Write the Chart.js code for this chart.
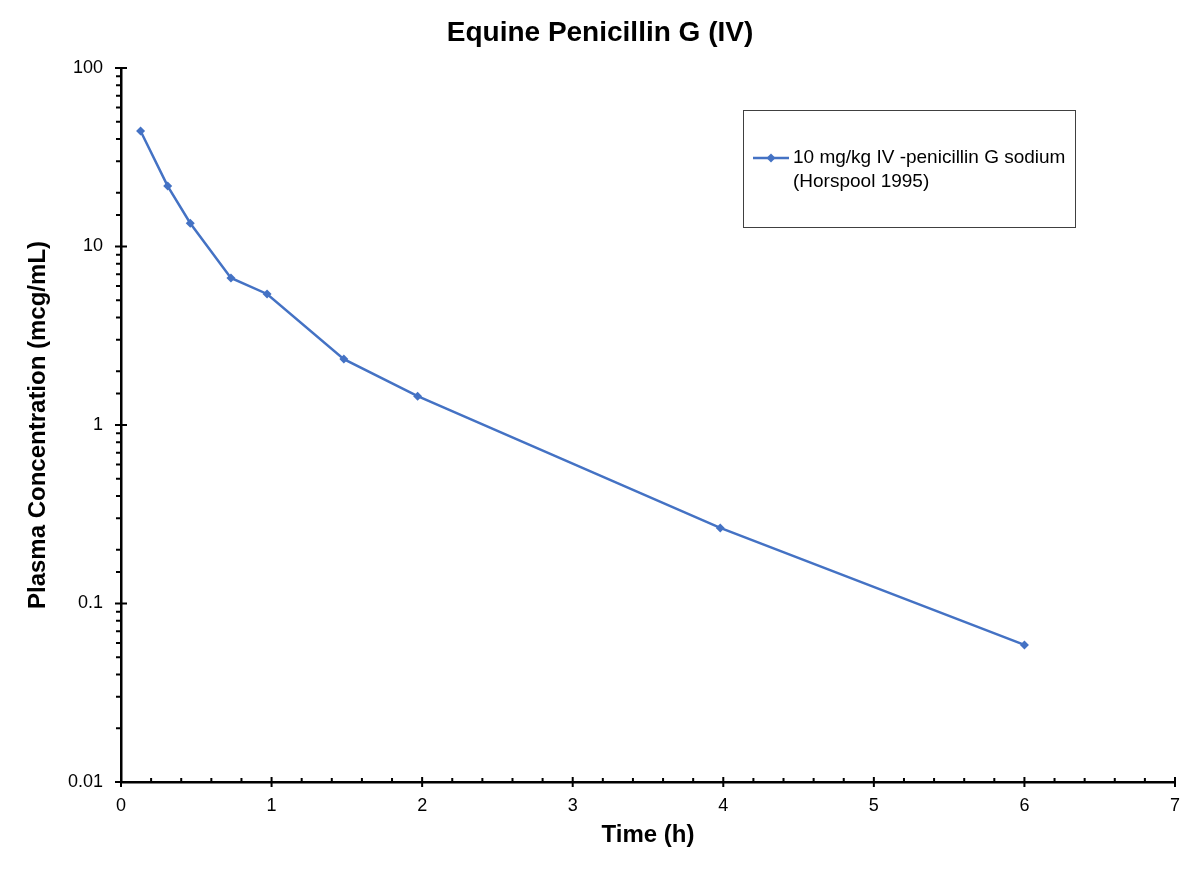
<!DOCTYPE html>
<html>
<head>
<meta charset="utf-8">
<title>Equine Penicillin G (IV)</title>
<script src="https://cdn.jsdelivr.net/npm/chart.js@4/dist/chart.umd.min.js"></script>
<style>
  html, body { margin: 0; padding: 0; background: #ffffff; }
  #wrap { width: 1200px; height: 871px; }
</style>
</head>
<body>
<div id="wrap"><canvas id="pkChart"></canvas></div>
<script>
// Data
const timeHours = [0.13, 0.31, 0.46, 0.73, 0.97, 1.48, 1.97, 3.98, 6.0];
const concentration = [44.4, 21.8, 13.5, 6.66, 5.42, 2.34, 1.45, 0.265, 0.0586];
const seriesLabel = ['10 mg/kg IV -penicillin G sodium', '(Horspool 1995)'];
const chartTitle = 'Equine Penicillin G (IV)';
const xTicks = [0, 1, 2, 3, 4, 5, 6, 7];
const yTicks = [0.01, 0.1, 1, 10, 100];

const BLUE = '#4472C4';
const FONT = 'Arial, "Liberation Sans", sans-serif';

// Title centred on the whole canvas (Chart.js centres it over the padded box)
const pageTitle = {
    id: 'pageTitle',
    afterDraw(chart) {
        const ctx = chart.ctx;
        ctx.save();
        ctx.fillStyle = '#000';
        ctx.font = 'bold 28px ' + FONT;
        ctx.textAlign = 'center';
        ctx.textBaseline = 'middle';
        ctx.fillText(chartTitle, chart.width / 2, 33);
        ctx.restore();
    }
};

// Draws Excel-style tick marks (major crossing, minor short)
const tickMarks = {
    id: 'tickMarks',
    afterDraw(chart) {
        const ctx = chart.ctx;
        const x = chart.scales.x;
        const y = chart.scales.y;
        const area = chart.chartArea;
        ctx.save();
        ctx.strokeStyle = '#000';
        ctx.lineWidth = 2;
        ctx.beginPath();
        // y axis
        y.ticks.forEach(t => {
            const py = y.getPixelForValue(t.value);
            const isMajor = yTicks.some(v => Math.abs(Math.log10(v) - Math.log10(t.value)) < 1e-6);
            if (isMajor) {
                ctx.moveTo(area.left - 6, py);
                ctx.lineTo(area.left + 6, py);
            } else {
                ctx.moveTo(area.left - 5, py);
                ctx.lineTo(area.left, py);
            }
        });
        // x axis
        for (let i = 0; i <= 35; i++) {
            const v = i * 0.2;
            const px = x.getPixelForValue(v);
            if (i % 5 === 0) {
                ctx.moveTo(px, area.bottom - 5);
                ctx.lineTo(px, area.bottom + 5);
            } else {
                ctx.moveTo(px, area.bottom - 4);
                ctx.lineTo(px, area.bottom);
            }
        }
        ctx.stroke();
        ctx.restore();
    }
};

// Boxed legend inside the plot, as in the reference
const boxLegend = {
    id: 'boxLegend',
    afterDraw(chart) {
        const ctx = chart.ctx;
        const area = chart.chartArea;
        const left = area.left + 622;
        const top = area.top + 42;
        const w = 332, h = 117;
        ctx.save();
        ctx.strokeStyle = '#404040';
        ctx.lineWidth = 1;
        ctx.strokeRect(left + 0.5, top + 0.5, w, h);

        const ly = top + 48;
        ctx.strokeStyle = BLUE;
        ctx.lineWidth = 2.5;
        ctx.beginPath();
        ctx.moveTo(left + 10, ly);
        ctx.lineTo(left + 46, ly);
        ctx.stroke();
        ctx.fillStyle = BLUE;
        ctx.beginPath();
        const cx = left + 28, r = 4.5;
        ctx.moveTo(cx, ly - r);
        ctx.lineTo(cx + r, ly);
        ctx.lineTo(cx, ly + r);
        ctx.lineTo(cx - r, ly);
        ctx.closePath();
        ctx.fill();

        ctx.fillStyle = '#000';
        ctx.font = '19px ' + FONT;
        ctx.textAlign = 'left';
        ctx.textBaseline = 'middle';
        seriesLabel.forEach((line, i) => {
            ctx.fillText(line, left + 50, ly + i * 24);
        });
        ctx.restore();
    }
};

new Chart(document.getElementById('pkChart'), {
    type: 'line',
    data: {
        datasets: [{
            label: seriesLabel.join(' '),
            data: timeHours.map((t, i) => ({ x: t, y: concentration[i] })),
            borderColor: BLUE,
            backgroundColor: BLUE,
            borderWidth: 2.5,
            pointStyle: 'rectRot',
            pointRadius: 4.5,
            pointBorderWidth: 0,
            tension: 0,
            fill: false
        }]
    },
    options: {
        responsive: true,
        maintainAspectRatio: false,
        animation: false,
        layout: {
            padding: { left: 0, right: 25, top: 68, bottom: 0 }
        },
        plugins: {
            legend: { display: false },
            tooltip: { enabled: false },
            title: { display: false }
        },
        scales: {
            x: {
                type: 'linear',
                min: 0,
                max: 7,
                afterFit(scale) { scale.height = 89; },
                afterBuildTicks(scale) {
                    scale.ticks = xTicks.map(v => ({ value: v }));
                },
                grid: { display: true, drawOnChartArea: false, drawTicks: false },
                border: { display: true, color: '#000', width: 2.5 },
                ticks: {
                    color: '#000',
                    padding: 13,
                    font: { family: FONT, size: 18 }
                },
                title: {
                    display: true,
                    text: 'Time (h)',
                    color: '#000',
                    font: { family: FONT, size: 24, weight: 'bold' },
                    padding: { top: 0, bottom: 21 }
                }
            },
            y: {
                type: 'logarithmic',
                min: 0.01,
                max: 100,
                afterFit(scale) { scale.width = 121; },
                grid: { display: true, drawOnChartArea: false, drawTicks: false },
                border: { display: true, color: '#000', width: 2.5 },
                ticks: {
                    color: '#000',
                    padding: 18,
                    autoSkip: false,
                    font: { family: FONT, size: 18 },
                    callback(value) {
                        const e = Math.log10(value);
                        const r = Math.round(e);
                        if (Math.abs(e - r) > 1e-6) return '';
                        return r < 0 ? Math.pow(10, r).toFixed(-r) : String(Math.pow(10, r));
                    }
                },
                title: {
                    display: true,
                    text: 'Plasma Concentration (mcg/mL)',
                    color: '#000',
                    font: { family: FONT, size: 24, weight: 'bold' },
                    padding: { top: 24, bottom: 0 }
                }
            }
        }
    },
    plugins: [pageTitle, tickMarks, boxLegend]
});
</script>
</body>
</html>
